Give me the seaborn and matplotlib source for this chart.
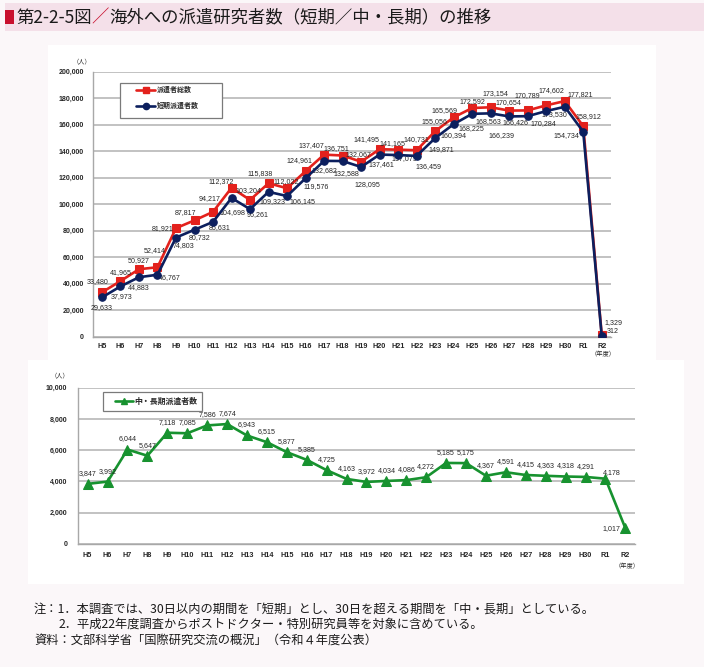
import numpy as np
import pandas as pd
import matplotlib
matplotlib.use("Agg")
import matplotlib.pyplot as plt
import seaborn as sns
from matplotlib.patches import Rectangle
from matplotlib.lines import Line2D

# ---------------- data ----------------
years = ["H5", "H6", "H7", "H8", "H9", "H10", "H11", "H12", "H13", "H14", "H15",
         "H16", "H17", "H18", "H19", "H20", "H21", "H22", "H23", "H24", "H25",
         "H26", "H27", "H28", "H29", "H30", "R1", "R2"]
total = [33480, 41965, 50927, 52414, 81921, 87817, 94217, 112372, 103204, 115838,
         112022, 124961, 137407, 136751, 132067, 141495, 141165, 140731, 155056,
         165569, 172592, 173154, 170654, 170789, 174602, 177821, 158912, 1329]
short_term = [29633, 37973, 44883, 46767, 74803, 80732, 86631, 104698, 96261, 109323,
              106145, 119576, 132682, 132588, 128095, 137461, 137079, 136459, 149871,
              160394, 168225, 168563, 166239, 166426, 170284, 173530, 154734, 312]
mid_long = [3847, 3992, 6044, 5647, 7118, 7085, 7586, 7674, 6943, 6515, 5877, 5385,
            4725, 4163, 3972, 4034, 4086, 4272, 5185, 5175, 4367, 4591, 4415, 4363,
            4318, 4291, 4178, 1017]
name_total = "派遣者総数"
name_short = "短期派遣者数"
name_mid = "中・長期派遣者数"

# label offsets (pixels, image coordinates: +y is downward)
total_off = [(-4, -11), (0, -9), (0, -9), (-3, -17), (-13, 0), (-9, -8), (-3, -13),
             (-10, -6), (-2, -9), (-8, -10), (-1, -7), (-6, -11), (-13, -9), (-6, -7),
             (-3, -7), (-13, -10), (-6, -6), (0, -11), (-1, -10), (-9, -7), (0, -6),
             (5, -14), (-1, -8), (0, -15), (5, -15), (16, -7), (5, -10), (12, -12)]
short_off = [(0, 10), (1, 10), (0, 10), (12, 3), (8, 8), (5, 8), (7, 6), (1, 15),
             (8, 5), (4, 10), (15, 5), (11, 8), (0, 10), (4, 13), (6, 18), (2, 10),
             (6, 3), (12, 11), (6, 11), (0, 11), (-1, 15), (-2, 8), (-8, 19), (-12, 6),
             (-3, 12), (-10, 8), (-17, 4), (11, -5)]
mid_off = [(0, -10.5)] * 26 + [(6, -6), (-14, 0)]

df = pd.DataFrame({"pos": np.arange(len(years)), "year": years, "total": total,
                   "short": short_term, "mid": mid_long})

RED = "#e3211c"
NAVY = "#0c1f5e"
GREEN = "#17922f"
GRID = "#bdbdbd"
TXT = "#262626"

W, H = 704, 667
sns.set_style("white")
plt.rcParams["font.family"] = ["Liberation Sans", "Noto Sans CJK JP", "DejaVu Sans"]

fig = plt.figure(figsize=(W / 100, H / 100), dpi=100, facecolor="#fbf7f9")


def frect(l, t, r, b):
    return [l / W, 1 - b / H, (r - l) / W, (b - t) / H]


def fx(x):
    return x / W


def fy(y):
    return 1 - y / H


def add_rect(l, t, r, b, color, ec="none", lw=0, z=-5):
    fig.patches.append(Rectangle((fx(l), fy(b)), (r - l) / W, (b - t) / H,
                                 transform=fig.transFigure, facecolor=color,
                                 edgecolor=ec, linewidth=lw, zorder=z))


# backgrounds
add_rect(5, 3, 704, 31, "#f4e0e9")
add_rect(28, 360, 684, 584, "white")
add_rect(48, 45, 656, 362, "white")

# title
add_rect(5, 10, 14, 24, "#c8102e", z=5)
renderer = fig.canvas.get_renderer()
xcur = 16
for seg, col in [("第2-2-5図", "#1a1a1a"), ("／", "#c8102e"),
                 ("海外への派遣研究者数（短期／中・長期）の推移", "#1a1a1a")]:
    t = fig.text(fx(xcur), fy(17.5), seg, fontsize=12.5, color=col, va="center",
                 ha="left", family=["Noto Sans CJK JP", "DejaVu Sans"])
    bb = t.get_window_extent(renderer)
    xcur += bb.width


def style_axes(ax, ymax, ystep, label_pad_y, label_pad_x):
    ax.set_facecolor("none")
    ax.set_xlim(-0.5, len(years) - 0.5)
    ax.set_ylim(0, ymax)
    ax.set_xticks(np.arange(len(years)))
    ax.set_xticklabels(years, fontsize=5.2, fontweight="bold", color=TXT)
    ax.set_xticks(np.arange(-0.5, len(years), 1), minor=True)
    ax.tick_params(axis="x", which="major", length=0, pad=label_pad_x)
    ax.tick_params(axis="x", which="minor", direction="in", length=2.5,
                   color="#a0a0a0", width=0.8)
    yt = np.arange(0, ymax + 1, ystep)
    ax.set_yticks(yt)
    ax.set_yticklabels([f"{int(v):,}" for v in yt], fontsize=5, fontweight="bold",
                       color=TXT)
    ax.tick_params(axis="y", length=3, color="#a0a0a0", width=0.8, pad=label_pad_y)
    ax.grid(axis="y", color=GRID, linewidth=1.3)
    ax.grid(axis="x", visible=False)
    for s in ["top", "right"]:
        ax.spines[s].set_visible(False)
    for s in ["left", "bottom"]:
        ax.spines[s].set_color("#a8a8a8")
        ax.spines[s].set_linewidth(1.0)
    ax.set_xlabel("")
    ax.set_ylabel("")
    ax.set_axisbelow(True)


# ---------------- top chart ----------------
ax1 = fig.add_axes(frect(92.7, 71.7, 611, 336.7))
sns.lineplot(data=df, x="pos", y="total", ax=ax1, color=RED, marker="s",
             markersize=6.2, markeredgecolor=RED, linewidth=1.9, legend=False, zorder=3)
sns.lineplot(data=df, x="pos", y="short", ax=ax1, color=NAVY, marker="o",
             markersize=5.4, markeredgecolor=NAVY, linewidth=1.9, legend=False, zorder=4)
style_axes(ax1, 200000, 20000, 3.2, 4.5)
for i, v in enumerate(total):
    dx, dy = total_off[i]
    ax1.annotate(f"{v:,}", (i, v), xytext=(dx, -dy), textcoords="offset pixels",
                 ha="center", va="center", fontsize=5.1, color=TXT)
for i, v in enumerate(short_term):
    dx, dy = short_off[i]
    ax1.annotate(f"{v:,}", (i, v), xytext=(dx, -dy), textcoords="offset pixels",
                 ha="center", va="center", fontsize=5.1, color=TXT)
fig.text(fx(82), fy(61.5), "（人）", fontsize=4.5, ha="center", va="center",
         color=TXT, family=["Noto Sans CJK JP"])
fig.text(fx(603), fy(354.5), "（年度）", fontsize=4.5, ha="center", va="center",
         color=TXT, family=["Noto Sans CJK JP"])

# legend top
add_rect(120, 83, 222, 118, "white", ec="#7a7a7a", lw=0.9, z=6)
h_tot = Line2D([], [], color=RED, marker="s", markersize=5, linewidth=1.9)
h_sho = Line2D([], [], color=NAVY, marker="o", markersize=4.5, linewidth=1.9)
leg1 = fig.legend([h_tot, h_sho], [name_total, name_short], loc="upper left",
                  bbox_to_anchor=(fx(136), fy(86)), frameon=False,
                  handlelength=2.8, handletextpad=0.25, labelspacing=1.25,
                  borderpad=0, borderaxespad=0,
                  prop={"family": ["Noto Sans CJK JP"], "size": 5, "weight": "bold"})
leg1.set_zorder(7)

# ---------------- bottom chart ----------------
ax2 = fig.add_axes(frect(77.7, 387.7, 635.3, 544))
sns.lineplot(data=df, x="pos", y="mid", ax=ax2, color=GREEN, marker="^",
             markersize=6.8, markeredgecolor=GREEN, linewidth=1.9, legend=False, zorder=3)
style_axes(ax2, 10000, 2000, 4.5, 6.0)
for i, v in enumerate(mid_long):
    dx, dy = mid_off[i]
    ax2.annotate(f"{v:,}", (i, v), xytext=(dx, -dy), textcoords="offset pixels",
                 ha="center", va="center", fontsize=5.1, color=TXT)
fig.text(fx(60), fy(375), "（人）", fontsize=4.5, ha="center", va="center",
         color=TXT, family=["Noto Sans CJK JP"])
fig.text(fx(627), fy(566), "（年度）", fontsize=4.5, ha="center", va="center",
         color=TXT, family=["Noto Sans CJK JP"])

add_rect(102.7, 391.7, 202.3, 410.7, "white", ec="#7a7a7a", lw=0.9, z=6)
h_mid = Line2D([], [], color=GREEN, marker="^", markersize=5, linewidth=1.9)
leg2 = fig.legend([h_mid], [name_mid], loc="center left",
                  bbox_to_anchor=(fx(115), fy(401.5)), frameon=False,
                  handlelength=2.3, handletextpad=0.2, borderpad=0, borderaxespad=0,
                  prop={"family": ["Noto Sans CJK JP"], "size": 5.7, "weight": "bold"})
leg2.set_zorder(7)

# ---------------- notes ----------------
note_font = ["Noto Sans CJK JP", "DejaVu Sans"]
fig.text(fx(34), fy(609), "注：1．本調査では、30日以内の期間を「短期」とし、30日を超える期間を「中・長期」としている。",
         fontsize=8.8, ha="left", va="center", color="#1a1a1a", family=note_font)
fig.text(fx(59), fy(624.5), "2．平成22年度調査からポストドクター・特別研究員等を対象に含めている。",
         fontsize=8.8, ha="left", va="center", color="#1a1a1a", family=note_font)
fig.text(fx(34), fy(640), "資料：文部科学省「国際研究交流の概況」（令和４年度公表）",
         fontsize=8.8, ha="left", va="center", color="#1a1a1a", family=note_font)

fig.savefig("out.png", dpi=100, facecolor=fig.get_facecolor())
